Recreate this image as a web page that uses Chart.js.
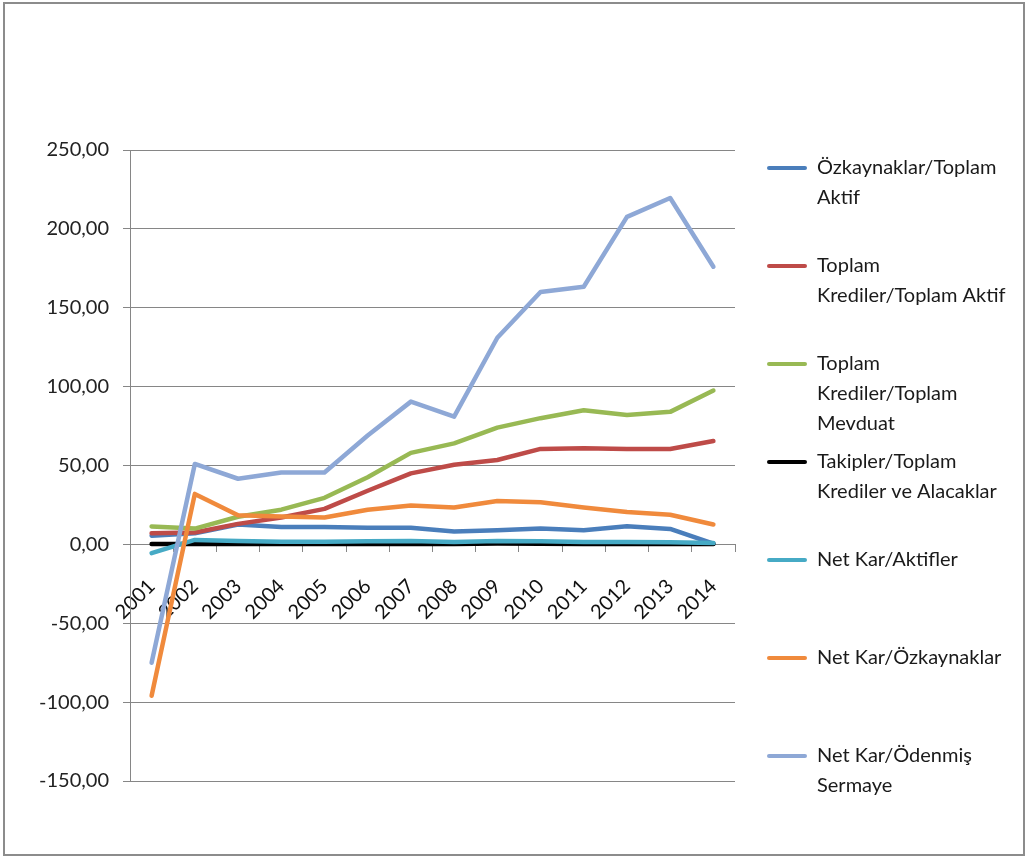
<!DOCTYPE html>
<html>
<head>
<meta charset="utf-8">
<script src="https://cdn.jsdelivr.net/npm/chart.js@4.4.1/dist/chart.umd.min.js"></script>
<style>
  html, body { margin: 0; padding: 0; background: #fff; }
  #wrap { position: relative; width: 1030px; height: 862px; }
  #frame { position: absolute; left: 3px; top: 2px; width: 1022px; height: 854px; border: 2px solid #8c8c8c; box-sizing: border-box; pointer-events: none; }
  canvas { position: absolute; left: 0; top: 0; }
</style>
</head>
<body>
<div id="wrap">
  <canvas id="c" width="1030" height="862"></canvas>
  <div id="frame"></div>
</div>
<script>
// ---- data ----
const years = ['2001','2002','2003','2004','2005','2006','2007','2008','2009','2010','2011','2012','2013','2014'];

const ozkaynaklarToplamAktif   = [5.5, 7, 12.6, 11, 11, 10.5, 10.5, 8.2, 9, 10, 9, 11.5, 9.8, 0.5];
const kredilerToplamAktif      = [7, 7.5, 13, 17, 22.5, 34, 45, 50.5, 53.5, 60.5, 61, 60.5, 60.5, 65.5];
const kredilerToplamMevduat    = [11.4, 10, 17.5, 22, 29.5, 42.5, 58, 64, 74, 80, 85, 82, 84, 97.5];
const takiplerKrediler         = [0.2, 0.3, 0.3, 0.3, 0.2, 0.2, 0.3, 0.3, 0.5, 0.4, 0.3, 0.3, 0.3, 0.3];
const netKarAktifler           = [-5.6, 2.8, 2.2, 1.7, 1.6, 2.0, 2.1, 1.5, 2.1, 2.0, 1.5, 1.5, 1.3, 0.8];
const netKarOzkaynaklar        = [-96, 32, 18.4, 17.7, 17, 22, 24.7, 23.4, 27.5, 26.7, 23.4, 20.5, 18.8, 12.6];
const netKarOdenmisSermaye     = [-75, 51, 41.6, 45.6, 45.6, 69, 90.5, 81, 131, 160, 163.3, 207.6, 219.6, 176];

const seriesNames = [
  ['Özkaynaklar/Toplam', 'Aktif', ''],
  ['Toplam', 'Krediler/Toplam Aktif', ''],
  ['Toplam', 'Krediler/Toplam', 'Mevduat'],
  ['Takipler/Toplam', 'Krediler ve Alacaklar', ''],
  ['Net Kar/Aktifler', '', ''],
  ['Net Kar/Özkaynaklar', '', ''],
  ['Net Kar/Ödenmiş', 'Sermaye']
];
const seriesValues = [ozkaynaklarToplamAktif, kredilerToplamAktif, kredilerToplamMevduat,
  takiplerKrediler, netKarAktifler, netKarOzkaynaklar, netKarOdenmisSermaye];
const seriesColors = ['#4A7EBB', '#BE4B48', '#98B954', '#000000', '#46AAC5', '#F08A3C', '#8EA8D6'];

const yMin = -150, yMax = 250, yStep = 50;

// ---- chart ----
const FONT = 'Lato';
const gridGray = '#868686';

const datasets = seriesValues.map((vals, i) => ({
  label: seriesNames[i],
  data: vals,
  borderColor: seriesColors[i],
  backgroundColor: seriesColors[i],
  borderWidth: 4.5,
  pointRadius: 0,
  pointHoverRadius: 0,
  tension: 0,
  fill: false,
  borderCapStyle: 'round',
  borderJoinStyle: 'round',
  order: seriesValues.length - i
}));

const fixedSize = {
  id: 'fixedSize',
  beforeLayout(chart) {
    const lg = chart.legend;
    if (lg && !lg._patched) {
      const origFit = Object.getPrototypeOf(lg).fit;
      lg.fit = function() { origFit.call(this); this.width = 271; };
      lg._patched = true;
    }
  }
};

new Chart(document.getElementById('c'), {
  type: 'line',
  data: { labels: years, datasets },
  plugins: [fixedSize],
  options: {
    responsive: false,
    animation: false,
    devicePixelRatio: 1,
    layout: { padding: 0 },
    plugins: {
      tooltip: { enabled: false },
      legend: {
        display: true,
        position: 'right',
        align: 'start',
        title: { display: true, text: '', padding: { top: 138, bottom: 0 }, font: { size: 10, lineHeight: 1.2 } },
        labels: {
          boxWidth: 40,
          boxHeight: 4,
          padding: 8,
          color: '#1a1a1a',
          font: { family: FONT, size: 20, lineHeight: '30px' },
          sort: (a, b) => a.datasetIndex - b.datasetIndex,
          generateLabels(chart) {
            const items = Chart.defaults.plugins.legend.labels.generateLabels(chart);
            items.forEach(it => { it.fillStyle = it.strokeStyle; it.lineWidth = 0; it.borderRadius = 2; });
            return items;
          }
        }
      }
    },
    scales: {
      x: {
        type: 'category',
        offset: true,
        position: { y: 0 },
        grid: { display: true, drawOnChartArea: false, drawTicks: true, tickLength: 7, offset: true, color: gridGray, tickColor: gridGray, lineWidth: 1 },
        border: { display: true, color: gridGray, width: 1 },
        ticks: { autoSkip: false, minRotation: 45, maxRotation: 45, padding: 23, color: '#111', font: { family: FONT, size: 20 } }
      },
      y: {
        type: 'linear',
        position: 'left',
        min: yMin, max: yMax,
        grid: { display: true, drawTicks: true, tickLength: 7, color: gridGray, tickColor: gridGray, lineWidth: 1 },
        border: { display: true, color: gridGray, width: 1 },
        ticks: {
          stepSize: yStep, padding: 14, color: '#222', font: { family: FONT, size: 20 },
          callback: v => v.toFixed(2).replace('.', ',')
        },
        afterFit: s => { s.width = 130; }
      },
      xTop: {
        axis: 'x', type: 'linear', position: 'top', display: true,
        grid: { display: false }, border: { display: false }, ticks: { display: false },
        afterFit: s => { s.height = 150; }
      },
      xBottom: {
        axis: 'x', type: 'linear', position: 'bottom', display: true,
        grid: { display: false }, border: { display: false }, ticks: { display: false },
        afterFit: s => { s.height = 81; }
      },
      yRight: {
        axis: 'y', type: 'linear', position: 'right', display: true,
        grid: { display: false }, border: { display: false }, ticks: { display: false },
        afterFit: s => { s.width = 24; }
      }
    }
  }
});
</script>
</body>
</html>
